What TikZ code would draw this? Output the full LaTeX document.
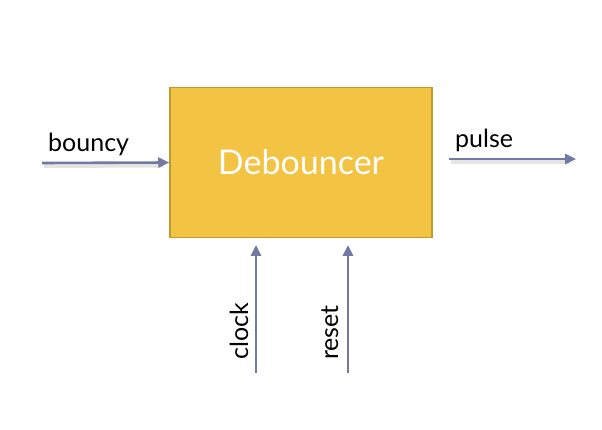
\documentclass[tikz,border=0pt]{standalone}
\usepackage{fontspec}
\setmainfont{Lato}
\usetikzlibrary{arrows.meta}
\definecolor{boxfill}{HTML}{F3C343}
\definecolor{boxedge}{HTML}{C19A2E}
\definecolor{arrcol}{HTML}{7379A2}
\tikzset{
  blockbox/.style={draw=boxedge, line width=1.5pt, fill=boxfill, minimum width=262pt, minimum height=150pt, inner sep=0pt, text=white, font=\fontsize{34}{40}\selectfont},
  sigarrow/.style={draw=arrcol, line width=2.6pt, -{Triangle[length=11pt,width=10pt]}},
  sigshadow/.style={draw=black!30, line width=4pt, opacity=0.35},
  siglabel/.style={text=black, inner sep=0pt, font=\fontsize{25}{28}\selectfont},
}
\begin{document}
\begin{tikzpicture}[x=1pt,y=-1pt]
\useasboundingbox (0,0) rectangle (602,430);
\node[blockbox] (deb) at (301,162.5) {Debouncer};
\coordinate (bin) at (42,163);
\coordinate (pin) at (449,159);
\coordinate (pout) at (576,159);
\coordinate (cin) at (256,373);
\coordinate (cout) at (256,245);
\coordinate (rin) at (348,373);
\coordinate (rout) at (348,245);
% shadows
\draw[sigshadow] ([yshift=-3pt,xshift=2pt]bin) -- ([yshift=-3pt,xshift=-6pt]deb.west);
\draw[sigshadow] ([yshift=-3pt,xshift=2pt]pin) -- ([yshift=-3pt,xshift=-6pt]pout);
% arrows
\draw[sigarrow] (bin) -- (deb.west);
\draw[sigarrow] (pin) -- (pout);
\draw[sigarrow] (cin) -- (cout);
\draw[sigarrow] (rin) -- (rout);
% labels
\node[siglabel, anchor=base west] (lb) at (48,152) {bouncy};
\node[siglabel, anchor=base west] (lp) at (455,148) {pulse};
\node[siglabel, rotate=90, anchor=base west] (lc) at (248,360) {clock};
\node[siglabel, rotate=90, anchor=base west] (lr) at (338,360) {reset};
\end{tikzpicture}
\end{document}
